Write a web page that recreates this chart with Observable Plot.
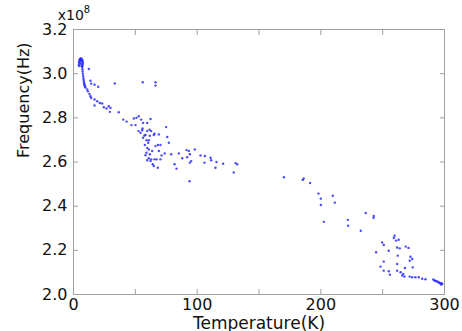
<!DOCTYPE html>
<html><head><meta charset="utf-8">
<script src="https://cdn.jsdelivr.net/npm/d3@7"></script>
<script src="https://cdn.jsdelivr.net/npm/@observablehq/plot@0.6"></script>
<style>body{margin:0;background:#fff;overflow:hidden;}</style>
</head><body><div id="chart"></div>
<script>
// Temperature (K) and frequency (x10^8 Hz)
const temperature = [
  4.3,4.4,4.6,5.0,5.5,6.0,6.5,7.0,7.4,7.6,7.5,7.2,7.0,6.5,5.8,5.0,4.5,7.2,7.4,7.6,7.8,8.0,8.2,8.4,8.6,8.8,9.0,9.3,9.6,6.8,6.2,5.3,
  12.4,13.7,14.3,17.0,20.0,33.4,56.0,66.3,66.3,11.1,11.6,12.9,13.7,14.3,17.0,19.2,21.3,23.2,17.0,24.5,26.7,28.5,29.9,29.4,36.6,40.2,42.9,48.8,50.9,52.8,54.7,56.3,62.3,59.6,46.9,50.1,55.5,54.2,59.6,57.4,61.7,56.3,59.0,60.9,64.9,69.0,
  55.8,52.6,61.5,62.8,58.2,65.5,74.9,75.8,77.1,60.4,57.7,59.6,60.9,63.6,59.0,61.7,58.2,60.9,62.8,59.6,62.3,65.5,66.3,68.2,70.3,69.0,71.2,73.8,79.0,70.3,67.1,64.1,64.9,68.2,81.7,83.3,85.2,87.9,91.4,93.3,94.1,91.9,95.2,94.1,98.1,102.7,106.2,110.8,111.3,105.9,115.6,114.8,121.0,131.0,132.4,129.6,93.8,170.1,
  185.4,186.2,191.3,198.1,200.0,200.0,209.7,211.3,202.4,221.8,222.1,236.3,242.8,242.6,232.3,249.6,250.9,244.7,254.9,259.6,259.0,260.9,263.0,261.7,263.8,268.7,270.9,272.5,273.9,271.9,274.3,250.9,248.2,250.8,254.9,255.8,261.7,262.2,261.7,264.5,266.7,268.0,267.6,265.8,271.9,273.9,276.5,279.2,282.0,284.6,290.9,291.9,293.5,295.4,296.8,297.3,298.1,292.5,294.5,296.0,297.8
];
const frequency = [
  3.040,3.050,3.058,3.064,3.068,3.069,3.067,3.063,3.057,3.050,3.043,3.036,3.030,3.035,3.045,3.050,3.035,3.020,3.010,3.000,2.990,2.980,2.972,2.965,2.958,2.952,2.947,2.942,2.937,3.055,3.060,3.058,
  3.021,2.968,2.955,2.950,2.941,2.956,2.961,2.961,2.946,2.928,2.920,2.908,2.898,2.890,2.883,2.875,2.867,2.865,2.856,2.848,2.842,2.853,2.845,2.827,2.825,2.792,2.783,2.797,2.800,2.807,2.792,2.777,2.795,2.777,2.767,2.767,2.744,2.732,2.740,2.720,2.719,2.710,2.699,2.699,2.722,2.725,
  2.752,2.740,2.746,2.740,2.722,2.728,2.758,2.713,2.687,2.687,2.677,2.664,2.657,2.650,2.642,2.635,2.631,2.617,2.612,2.608,2.604,2.612,2.672,2.677,2.677,2.650,2.630,2.639,2.635,2.612,2.612,2.590,2.582,2.574,2.590,2.570,2.639,2.617,2.654,2.650,2.635,2.622,2.604,2.597,2.657,2.630,2.627,2.619,2.608,2.597,2.600,2.574,2.592,2.595,2.590,2.553,2.513,2.531,
  2.519,2.525,2.505,2.457,2.434,2.405,2.447,2.416,2.329,2.338,2.311,2.369,2.356,2.347,2.289,2.236,2.224,2.191,2.198,2.266,2.256,2.244,2.248,2.213,2.209,2.217,2.211,2.171,2.161,2.153,2.123,2.149,2.126,2.108,2.105,2.090,2.138,2.176,2.108,2.101,2.093,2.120,2.081,2.086,2.081,2.078,2.078,2.078,2.071,2.069,2.068,2.063,2.060,2.055,2.051,2.045,2.048,2.062,2.058,2.052,2.050
];
const xTicks = [0, 50, 100, 150, 200, 250, 300];
const xTickLabels = [0, 100, 200, 300];
const yTicks = [2.0, 2.2, 2.4, 2.6, 2.8, 3.0, 3.2];
const xTitle = "Temperature(K)";
const yTitle = "Frequency(Hz)";
const exponentBase = "x10";
const exponent = "8";

const data = temperature.map((t, i) => ({t, f: frequency[i]}));
const gray = "#a0a0a0";

const svg = Plot.plot({
  width: 462, height: 331,
  marginLeft: 73, marginRight: 18, marginTop: 29, marginBottom: 37,
  style: {fontFamily: "DejaVu Sans", fontSize: "16px", color: "#111", background: "#fff", overflow: "visible"},
  x: {domain: [0, 300]},
  y: {domain: [2.0, 3.2]},
  marks: [
    Plot.frame({stroke: gray}),
    Plot.axisX({anchor: "bottom", ticks: xTicks, tickSize: -5, tickPadding: 9, stroke: gray, fill: "#111", label: null,
      tickFormat: d => xTickLabels.includes(d) ? String(d) : ""}),
    Plot.axisX({anchor: "top", ticks: xTicks, tickSize: -5, stroke: gray, label: null, tickFormat: () => ""}),
    Plot.axisY({anchor: "left", ticks: yTicks, tickSize: -5, tickPadding: 11, stroke: gray, fill: "#111", label: null,
      tickFormat: d3.format(".1f")}),
    Plot.axisY({anchor: "right", ticks: yTicks, tickSize: -5, stroke: gray, label: null, tickFormat: () => ""}),
    Plot.dot(data, {x: "t", y: "f", r: 1.2, fill: "#2a2aff", fillOpacity: 0.85, stroke: null}),
    Plot.text([xTitle], {frameAnchor: "bottom", dy: 34, lineAnchor: "bottom", fontSize: 17, fill: "#111"}),
    Plot.text([yTitle], {frameAnchor: "left", dx: -50, dy: -4, rotate: -90, fontSize: 16, fill: "#111"})
  ]
});
const t = d3.select(svg).append("text")
  .attr("x", 74).attr("y", 20)
  .attr("font-family", "DejaVu Sans").attr("font-size", 14).attr("fill", "#111");
t.append("tspan").text(exponentBase);
t.append("tspan").attr("dy", -7).attr("font-size", 10).text(exponent);
document.getElementById("chart").appendChild(svg);
</script>
</body></html>
